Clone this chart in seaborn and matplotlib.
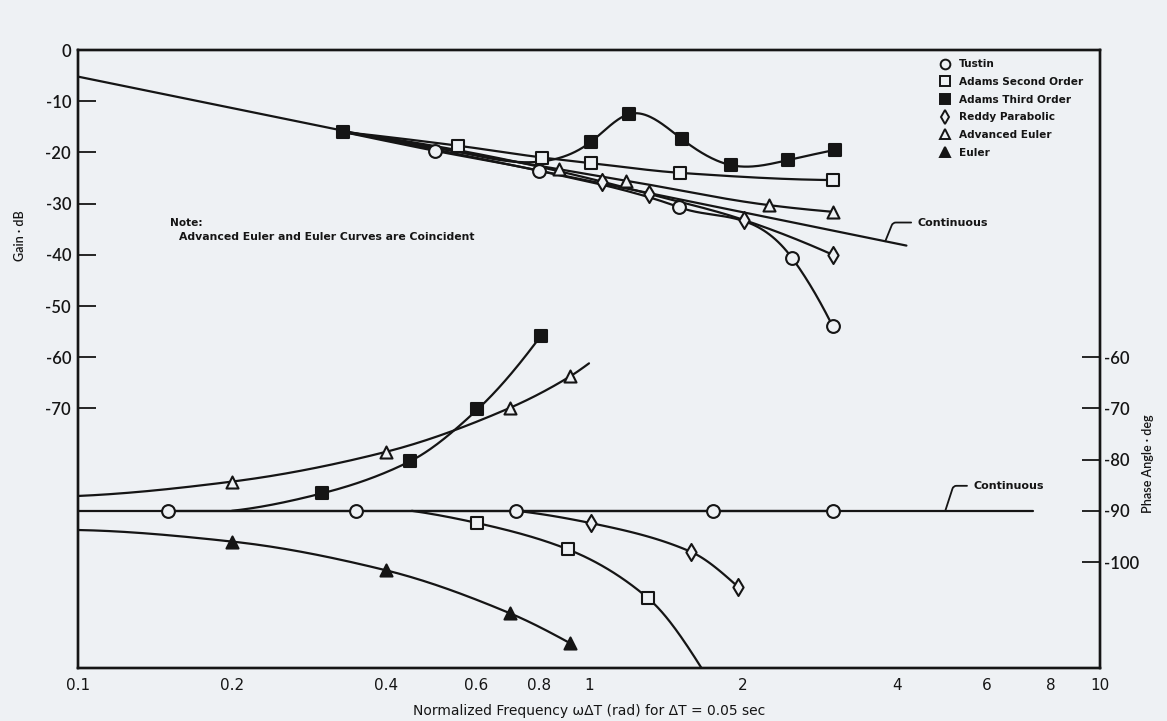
import numpy as np
import pandas as pd
import matplotlib
matplotlib.use("Agg")
import matplotlib.pyplot as plt
from matplotlib.lines import Line2D
import seaborn as sns

# ---------------------------------------------------------------------------
# Data: normalized frequency wdT (rad), gain (dB) and phase angle (deg)
# ---------------------------------------------------------------------------
cont_gain_w = [0.10, 4.18]
cont_gain_db = [-5.2, -38.2]
cont_phase_w = [0.10, 7.39]
cont_phase_deg = [-90.0, -90.0]

# point where the discrete gain curves branch off the continuous line
gain_join_w = [0.33]
gain_join_db = [-16.0]

tustin_gain_w = [0.50, 0.80, 1.50, 2.50, 3.00]
tustin_gain_db = [-19.7, -23.6, -30.7, -40.7, -54.0]

adams2_gain_w = [0.555, 0.81, 1.01, 1.51, 3.00]
adams2_gain_db = [-18.7, -21.0, -22.1, -24.0, -25.4]

adams3_gain_w = [0.33, 1.01, 1.20, 1.52, 1.90, 2.45, 3.03]
adams3_gain_db = [-16.0, -17.9, -12.5, -17.4, -22.5, -21.5, -19.5]
adams3_gain_knee_w = [0.55, 0.85]
adams3_gain_knee_db = [-19.8, -21.4]

reddy_gain_w = [1.06, 1.31, 2.01, 3.00]
reddy_gain_db = [-25.7, -28.1, -33.2, -40.0]

adveuler_gain_w = [0.875, 1.18, 2.25, 3.00]
adveuler_gain_db = [-23.3, -25.5, -30.3, -31.6]

tustin_phase_w = [0.15, 0.35, 0.72, 1.75, 3.00]
tustin_phase_deg = [-90.0, -90.0, -90.0, -90.0, -90.0]

adams2_phase_w = [0.605, 0.908, 1.306]
adams2_phase_deg = [-92.4, -97.5, -107.1]
adams2_phase_start = (0.45, -90.0)
adams2_phase_end = (1.66, -120.7)

adams3_phase_w = [0.30, 0.447, 0.605, 0.804]
adams3_phase_deg = [-86.6, -80.3, -70.2, -55.9]
adams3_phase_start = (0.20, -90.0)

reddy_phase_w = [1.008, 1.582, 1.96]
reddy_phase_deg = [-92.4, -98.0, -104.9]
reddy_phase_start = (0.72, -90.0)

adveuler_phase_w = [0.20, 0.40, 0.70, 0.92]
adveuler_phase_deg = [-84.3, -78.5, -69.9, -63.7]
adveuler_phase_start = (0.10, -87.1)
adveuler_phase_end = (1.00, -61.2)

euler_phase_w = [0.20, 0.40, 0.70, 0.92]
euler_phase_deg = [-96.0, -101.6, -110.0, -115.9]
euler_phase_start = (0.10, -93.75)

x_ticks = [0.1, 0.2, 0.4, 0.6, 0.8, 1, 2, 4, 6, 8, 10]
x_tick_labels = ["0.1", "0.2", "0.4", "0.6", "0.8", "1", "2", "4", "6", "8", "10"]
gain_ticks = [0, -10, -20, -30, -40, -50, -60, -70]
phase_ticks = [-60, -70, -80, -90, -100]

methods = ["Tustin", "Adams Second Order", "Adams Third Order",
           "Reddy Parabolic", "Advanced Euler", "Euler"]

# ---------------------------------------------------------------------------
PAPER = "#eef1f4"
INK = "#151515"

sns.set_theme(style="white")
plt.rcParams["font.family"] = ["Lato", "DejaVu Sans"]
plt.rcParams["text.color"] = INK
plt.rcParams["axes.labelcolor"] = INK
plt.rcParams["xtick.color"] = INK
plt.rcParams["ytick.color"] = INK
NARROW = ["Liberation Sans Narrow", "DejaVu Sans"]
WIDE = ["DejaVu Sans"]


def hermite_curve(w, v, slopes="pchip", per_seg=40):
    """Cubic Hermite curve through the points, in log-frequency.

    slopes="pchip" keeps the curve monotone between points,
    slopes="three_point" uses the weighted centred difference.
    """
    x = np.log10(np.asarray(w, float))
    y = np.asarray(v, float)
    n = len(x)
    if n < 3:
        return 10 ** x, y
    h = np.diff(x)
    delta = np.diff(y) / h
    d = np.zeros(n)
    for k in range(1, n - 1):
        if slopes == "three_point":
            d[k] = (delta[k - 1] * h[k] + delta[k] * h[k - 1]) / (h[k - 1] + h[k])
        elif delta[k - 1] * delta[k] > 0:
            w1 = 2 * h[k] + h[k - 1]
            w2 = h[k] + 2 * h[k - 1]
            d[k] = (w1 + w2) / (w1 / delta[k - 1] + w2 / delta[k])

    def end_slope(h0, h1, d0, d1):
        s = ((2 * h0 + h1) * d0 - h0 * d1) / (h0 + h1)
        if np.sign(s) != np.sign(d0):
            s = 0.0
        elif np.sign(d0) != np.sign(d1) and abs(s) > abs(3 * d0):
            s = 3 * d0
        return s

    d[0] = end_slope(h[0], h[1], delta[0], delta[1])
    d[-1] = end_slope(h[-1], h[-2], delta[-1], delta[-2])
    xs, ys = [], []
    for i in range(n - 1):
        t = np.linspace(0, 1, per_seg, endpoint=(i == n - 2))
        h00 = 2 * t ** 3 - 3 * t ** 2 + 1
        h10 = t ** 3 - 2 * t ** 2 + t
        h01 = -2 * t ** 3 + 3 * t ** 2
        h11 = t ** 3 - t ** 2
        xs.append(x[i] + t * h[i])
        ys.append(h00 * y[i] + h10 * h[i] * d[i] + h01 * y[i + 1] + h11 * h[i] * d[i + 1])
    return 10 ** np.concatenate(xs), np.concatenate(ys)


def spline_curve(w, v, per_seg=40):
    """Natural cubic spline through the points, in log-frequency."""
    x = np.log10(np.asarray(w, float))
    y = np.asarray(v, float)
    n = len(x)
    h = np.diff(x)
    A = np.zeros((n, n))
    r = np.zeros(n)
    A[0, 0] = A[-1, -1] = 1.0
    for i in range(1, n - 1):
        A[i, i - 1] = h[i - 1]
        A[i, i] = 2 * (h[i - 1] + h[i])
        A[i, i + 1] = h[i]
        r[i] = 6 * ((y[i + 1] - y[i]) / h[i] - (y[i] - y[i - 1]) / h[i - 1])
    M = np.linalg.solve(A, r)
    xs, ys = [], []
    for i in range(n - 1):
        t = np.linspace(x[i], x[i + 1], per_seg, endpoint=(i == n - 2))
        a = x[i + 1] - t
        b = t - x[i]
        s = ((M[i] * a ** 3 + M[i + 1] * b ** 3) / (6 * h[i])
             + (y[i] / h[i] - M[i] * h[i] / 6) * a
             + (y[i + 1] / h[i] - M[i + 1] * h[i] / 6) * b)
        xs.append(t)
        ys.append(s)
    return 10 ** np.concatenate(xs), np.concatenate(ys)


def pchip(w, v):
    return hermite_curve(w, v, "pchip")


def centred(w, v):
    return hermite_curve(w, v, "three_point")


def knots(start, w, v, end=None):
    ws = ([start[0]] if start else []) + list(w) + ([end[0]] if end else [])
    vs = ([start[1]] if start else []) + list(v) + ([end[1]] if end else [])
    return ws, vs


join = (gain_join_w[0], gain_join_db[0])
a3_w = [adams3_gain_w[0]] + adams3_gain_knee_w + adams3_gain_w[1:]
a3_v = [adams3_gain_db[0]] + adams3_gain_knee_db + adams3_gain_db[1:]

curves = {
    "cont_gain": (cont_gain_w, cont_gain_db, pchip),
    "tustin_gain": (*knots(join, tustin_gain_w, tustin_gain_db), centred),
    "adams2_gain": (*knots(join, adams2_gain_w, adams2_gain_db), pchip),
    "adams3_gain": (a3_w, a3_v, spline_curve),
    "reddy_gain": (*knots(join, reddy_gain_w, reddy_gain_db), centred),
    "adveuler_gain": (*knots(join, adveuler_gain_w, adveuler_gain_db), pchip),
    "cont_phase": (cont_phase_w, cont_phase_deg, pchip),
    "tustin_phase": (tustin_phase_w, tustin_phase_deg, pchip),
    "adams2_phase": (*knots(adams2_phase_start, adams2_phase_w, adams2_phase_deg,
                            adams2_phase_end), pchip),
    "adams3_phase": (*knots(adams3_phase_start, adams3_phase_w, adams3_phase_deg), pchip),
    "reddy_phase": (*knots(reddy_phase_start, reddy_phase_w, reddy_phase_deg), pchip),
    "adveuler_phase": (*knots(adveuler_phase_start, adveuler_phase_w, adveuler_phase_deg,
                              adveuler_phase_end), pchip),
    "euler_phase": (*knots(euler_phase_start, euler_phase_w, euler_phase_deg), pchip),
}

frames = []
for name, (w, v, fn) in curves.items():
    xs, ys = fn(w, v)
    frames.append(pd.DataFrame({"w": xs, "value": ys, "curve": name}))
lines_df = pd.concat(frames, ignore_index=True)

marker_style = {
    "Tustin": dict(marker="o", s=85, fill=PAPER),
    "Adams Second Order": dict(marker="s", s=75, fill=PAPER),
    "Adams Third Order": dict(marker="s", s=85, fill=INK),
    "Reddy Parabolic": dict(marker="d", s=75, fill=PAPER),
    "Advanced Euler": dict(marker="^", s=75, fill=PAPER),
    "Euler": dict(marker="^", s=75, fill=INK),
}

point_sets = [
    ("Tustin", tustin_gain_w, tustin_gain_db),
    ("Adams Second Order", adams2_gain_w, adams2_gain_db),
    ("Adams Third Order", adams3_gain_w, adams3_gain_db),
    ("Reddy Parabolic", reddy_gain_w, reddy_gain_db),
    ("Advanced Euler", adveuler_gain_w, adveuler_gain_db),
    ("Tustin", tustin_phase_w, tustin_phase_deg),
    ("Adams Second Order", adams2_phase_w, adams2_phase_deg),
    ("Adams Third Order", adams3_phase_w, adams3_phase_deg),
    ("Reddy Parabolic", reddy_phase_w, reddy_phase_deg),
    ("Advanced Euler", adveuler_phase_w, adveuler_phase_deg),
    ("Euler", euler_phase_w, euler_phase_deg),
]

# ---------------------------------------------------------------------------
W, H = 1167, 721
fig = plt.figure(figsize=(W / 100, H / 100), dpi=100, facecolor=PAPER)
ax = fig.add_axes([78 / W, 1 - 668 / H, 1022 / W, 618 / H])
ax.set_facecolor(PAPER)
ax.set_xscale("log")
YLIM = (-120.7, 0.0)

sns.lineplot(data=lines_df, x="w", y="value", units="curve", estimator=None,
             sort=False, color=INK, linewidth=1.6, ax=ax, legend=False, zorder=2)

for name, w, v in point_sets:
    st = marker_style[name]
    sns.scatterplot(x=w, y=v, marker=st["marker"], s=st["s"], color=st["fill"],
                    edgecolor=INK, linewidth=1.5, ax=ax, zorder=3, legend=False)

ax.set_xlim(0.1, 10)
ax.set_ylim(*YLIM)
ax.set_xticks(x_ticks)
ax.set_xticklabels(x_tick_labels, family=NARROW, fontsize=11)
ax.xaxis.set_minor_locator(matplotlib.ticker.NullLocator())
ax.set_yticks(gain_ticks)
ax.set_yticklabels([f"{t:d}" for t in gain_ticks], fontsize=12, weight="semibold")
ax.tick_params(axis="x", direction="in", length=10, width=1.3, pad=7)
ax.tick_params(axis="y", direction="in", length=13, width=1.3, pad=5)
for sp in ax.spines.values():
    sp.set_visible(True)
    sp.set_linewidth(1.7)
    sp.set_color(INK)

ax.set_xlabel("Normalized Frequency \u03c9\u0394T (rad) for \u0394T = 0.05 sec",
              family=NARROW, fontsize=10, labelpad=8)
ax.set_ylabel("Gain \u00b7 dB", fontsize=9, weight="semibold")
ax.yaxis.set_label_coords(-0.051, 0.70)

# phase scale on the right
ax2 = ax.twinx()
ax2.set_ylim(*YLIM)
ax2.set_yticks(phase_ticks)
ax2.set_yticklabels([f"{t:d}" for t in phase_ticks], fontsize=12, weight="semibold")
ax2.tick_params(axis="y", direction="in", length=13, width=1.3, pad=3)
for sp in ax2.spines.values():
    sp.set_linewidth(1.7)
    sp.set_color(INK)
ax2.set_ylabel("Phase Angle \u00b7 deg", fontsize=9, weight="semibold", rotation=90)
ax2.yaxis.set_label_coords(1.041, 0.33)


# labels for the continuous responses
def on_line(w_list, v_list, w):
    return np.interp(np.log10(w), np.log10(w_list), v_list)


w_lab = 3.80
ax.annotate("Continuous", xy=(w_lab, on_line(cont_gain_w, cont_gain_db, w_lab)),
            xytext=(23, 13.5), textcoords="offset points", ha="left", va="center",
            family=WIDE, fontsize=8, weight="bold",
            arrowprops=dict(arrowstyle="-", color=INK, lw=1.3, shrinkA=2, shrinkB=0,
                            connectionstyle="angle,angleA=0,angleB=68,rad=3"))
w_lab = 4.98
ax.annotate("Continuous", xy=(w_lab, on_line(cont_phase_w, cont_phase_deg, w_lab)),
            xytext=(20, 18), textcoords="offset points", ha="left", va="center",
            family=WIDE, fontsize=8, weight="bold",
            arrowprops=dict(arrowstyle="-", color=INK, lw=1.3, shrinkA=2, shrinkB=0,
                            connectionstyle="angle,angleA=0,angleB=72,rad=3"))

ax.text(0.090, 0.720, "Note:", transform=ax.transAxes, family=WIDE, fontsize=7.6,
        weight="bold", va="center")
ax.text(0.099, 0.698, "Advanced Euler and Euler Curves are Coincident",
        transform=ax.transAxes, family=WIDE, fontsize=7.8, weight="bold", va="center")

# legend
handles = []
for name in methods:
    st = marker_style[name]
    handles.append(Line2D([], [], linestyle="none", marker=st["marker"],
                          markersize=7, markerfacecolor=st["fill"],
                          markeredgecolor=INK, markeredgewidth=1.4))
leg = ax.legend(handles, methods, loc="upper left", bbox_to_anchor=(0.8434, 0.985),
                frameon=False, borderpad=0, borderaxespad=0, handlelength=1.0,
                handletextpad=0.8, labelspacing=0.73,
                prop={"family": WIDE, "size": 7.6, "weight": "bold"})

fig.savefig("out.png", dpi=100, facecolor=PAPER)
